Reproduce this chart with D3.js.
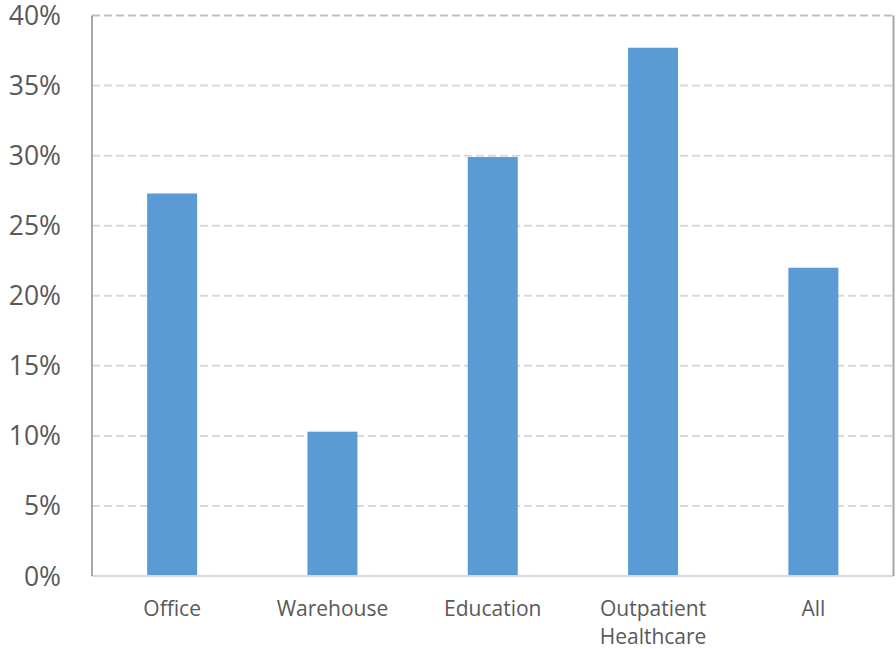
<!DOCTYPE html>
<html>
<head>
<meta charset="utf-8">
<script src="https://cdn.jsdelivr.net/npm/d3@7"></script>
<style>
  html, body { margin: 0; padding: 0; background: #fff; }
  svg { display: block; }
</style>
</head>
<body>
<svg id="chart" width="896" height="649"></svg>
<script>
// Share by building type
const categories = ["Office", "Warehouse", "Education", "Outpatient\nHealthcare", "All"];
const values = [0.273, 0.103, 0.299, 0.377, 0.220];
const yTicks = [0, 0.05, 0.10, 0.15, 0.20, 0.25, 0.30, 0.35, 0.40];

const svg = d3.select("#chart");
const margin = { left: 92, right: 2.5, top: 15.5, bottom: 73 };
const W = 896, H = 649;

const x = d3.scaleBand()
  .domain(categories)
  .range([margin.left, W - margin.right])
  .paddingInner(0.688)
  .paddingOuter(0.344);

const y = d3.scaleLinear()
  .domain([0, 0.40])
  .range([H - margin.bottom, margin.top]);

// horizontal dashed gridlines
svg.append("g")
  .selectAll("line")
  .data(yTicks.filter(t => t > 0))
  .join("line")
  .attr("x1", margin.left)
  .attr("x2", W - margin.right)
  .attr("y1", d => y(d))
  .attr("y2", d => y(d))
  .attr("stroke", d => d === 0.40 ? "#bfbfbf" : "#d9d9d9")
  .attr("stroke-width", 2)
  .attr("stroke-dasharray", "8,4");

// bars
svg.append("g")
  .selectAll("rect")
  .data(categories)
  .join("rect")
  .attr("x", d => x(d))
  .attr("width", x.bandwidth())
  .attr("y", (d, i) => y(values[i]))
  .attr("height", (d, i) => y(0) - y(values[i]))
  .attr("fill", "#5b9bd5");

// bottom axis line
svg.append("line")
  .attr("x1", margin.left).attr("x2", W - margin.right)
  .attr("y1", y(0)).attr("y2", y(0))
  .attr("stroke", "#d9d9d9").attr("stroke-width", 2);

// left axis line and right border
svg.append("line")
  .attr("x1", margin.left).attr("x2", margin.left)
  .attr("y1", margin.top).attr("y2", y(0))
  .attr("stroke", "#8c8c8c").attr("stroke-width", 1.5);
svg.append("line")
  .attr("x1", W - margin.right).attr("x2", W - margin.right)
  .attr("y1", margin.top).attr("y2", y(0))
  .attr("stroke", "#a6a6a6").attr("stroke-width", 2);

// y tick labels
const yAxis = d3.axisLeft(y)
  .tickValues(yTicks)
  .tickFormat(d3.format(".0%"))
  .tickSize(0)
  .tickPadding(31);
const gy = svg.append("g")
  .attr("transform", `translate(${margin.left},0)`)
  .call(yAxis);
gy.select(".domain").remove();
gy.selectAll("text")
  .attr("fill", "#595959")
  .attr("dy", "0.34em")
  .style("font-family", "'Open Sans', 'Noto Sans', sans-serif")
  .style("font-size", "26.5px");

// x category labels
const gx = svg.append("g")
  .attr("transform", `translate(0,${y(0)})`)
  .call(d3.axisBottom(x).tickSize(0).tickFormat(""));
gx.select(".domain").remove();
gx.selectAll(".tick").each(function (d) {
  const t = d3.select(this).append("text")
    .attr("text-anchor", "middle")
    .attr("fill", "#595959")
    .style("font-family", "'Open Sans', 'Noto Sans', sans-serif")
    .style("font-size", "21px");
  d.split("\n").forEach((line, i) => {
    t.append("tspan").attr("x", 0).attr("y", 40 + i * 27.5).text(line);
  });
});
</script>
</body>
</html>
